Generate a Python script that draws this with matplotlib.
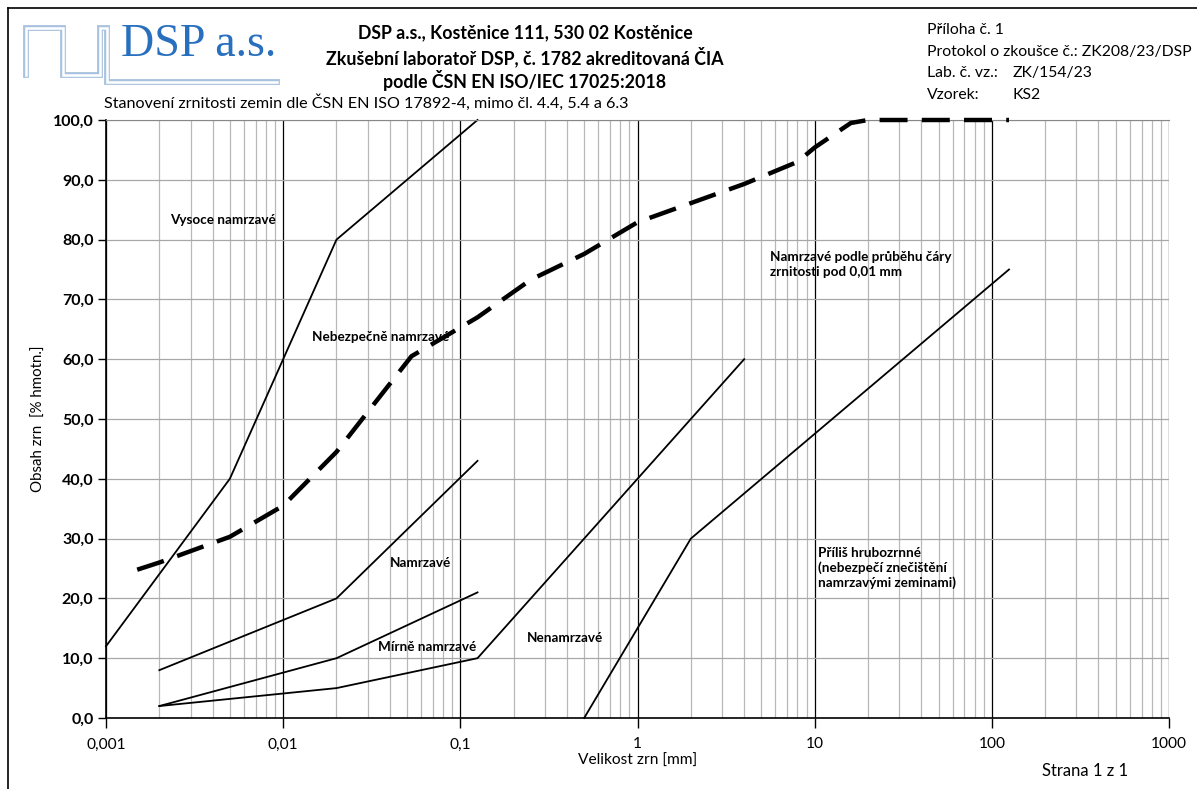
"""Frost susceptibility chart (grain size distribution) recreation."""

import matplotlib

matplotlib.use("Agg")
import matplotlib.pyplot as plt
from matplotlib.ticker import FixedLocator, FixedFormatter, NullFormatter

plt.rcParams["font.family"] = ["Lato", "DejaVu Sans"]

# boundary lines of the frost classes
vysoce_x = [0.001, 0.005, 0.02, 0.125]
vysoce_y = [12, 40, 80, 100]
namrzave_x = [0.002, 0.02, 0.125]
namrzave_y = [8, 20, 43]
mirne_x = [0.002, 0.02, 0.125]
mirne_y = [2, 10, 21]
nenamrzave_x = [0.002, 0.02, 0.125, 4]
nenamrzave_y = [2, 5, 10, 60]
hrubo_x = [0.5, 2, 125]
hrubo_y = [0, 30, 75]

# measured grading curve of sample KS2
sample_x = [0.0015, 0.002, 0.005, 0.01, 0.02, 0.053, 0.063, 0.125, 0.25,
            0.5, 1, 2, 4, 8, 10, 16, 20, 31.5, 63, 125]
sample_y = [24.8, 26.0, 30.3, 35.5, 44.5, 60.5, 61.8, 67.0, 73.3,
            77.6, 82.9, 86.1, 89.3, 93.0, 95.4, 99.5, 100, 100, 100, 100]

x_ticks = [0.001, 0.01, 0.1, 1, 10, 100, 1000]
x_labels = ["0,001", "0,01", "0,1", "1", "10", "100", "1000"]
y_ticks = list(range(0, 101, 10))
y_labels = ["%d,0" % v for v in y_ticks]

zones = [
    ("Vysoce namrzavé", 0.0023, 83.3),
    ("Nebezpečně namrzavé", 0.0146, 63.7),
    ("Namrzavé", 0.0398, 26.0),
    ("Mírně namrzavé", 0.0344, 11.9),
    ("Nenamrzavé", 0.236, 13.4),
    ("Namrzavé podle průběhu čáry\nzrnitosti pod 0,01 mm", 5.57, 75.8),
    ("Příliš hrubozrnné\n(nebezpečí znečištění\nnamrzavými zeminami)", 10.5, 25.1),
]

W, H = 1197, 789
fig = plt.figure(figsize=(W / 100, H / 100), dpi=100)

# page frame
frame = fig.add_axes([0, 0, 1, 1], zorder=-5)
frame.set_xlim(0, W)
frame.set_ylim(H, 0)
frame.axis("off")
frame.plot([8, W + 5], [8, 8], color="black", lw=1.2)
frame.plot([8, 8], [8, H + 5], color="black", lw=1.2)

# logo
px = [26, 26, 63, 63, 100, 100, 107, 107, 277]
py = [75, 28, 28, 75, 75, 28, 28, 82, 82]
frame.plot(px, py, color="#a9c3df", lw=4.2, solid_joinstyle="miter")
frame.plot(px, py, color="white", lw=1.8, solid_joinstyle="miter")
frame.text(121, 45, "DSP a.s.", family="Liberation Serif", fontsize=33,
           color="#2870bd", va="center", ha="left")

# header
head = ["DSP a.s., Kostěnice 111, 530 02 Kostěnice",
        "Zkušební laboratoř DSP, č. 1782 akreditovaná ČIA",
        "podle ČSN EN ISO/IEC 17025:2018"]
for i, line in enumerate(head):
    frame.text(525, 33 + 23.5 * i, line, ha="center", va="center",
               fontsize=12.8, fontweight="bold")
info = ["Příloha č. 1", "Protokol o zkoušce č.: ZK208/23/DSP",
        "Lab. č. vz.:", "Vzorek:"]
for i, line in enumerate(info):
    frame.text(927, 30 + 21.5 * i, line, ha="left", va="center", fontsize=11.3)
frame.text(1013, 73, "ZK/154/23", ha="left", va="center", fontsize=11.3)
frame.text(1013, 94.5, "KS2", ha="left", va="center", fontsize=11.3)
frame.text(104, 103, "Stanovení zrnitosti zemin dle ČSN EN ISO 17892-4, "
           "mimo čl. 4.4, 5.4 a 6.3", ha="left", va="center", fontsize=11.6)
frame.text(1042, 771, "Strana 1 z 1", ha="left", va="center", fontsize=12)

ax = fig.add_axes([106 / W, 1 - 718 / H, (1169 - 106) / W, (718 - 120) / H])
ax.set_xscale("log")
ax.set_xlim(0.001, 1000)
ax.set_ylim(0, 100)

minor = [m * 10.0 ** e for e in range(-3, 3) for m in range(2, 10)]
ax.xaxis.set_major_locator(FixedLocator(x_ticks))
ax.xaxis.set_major_formatter(FixedFormatter(x_labels))
ax.xaxis.set_minor_locator(FixedLocator(minor))
ax.xaxis.set_minor_formatter(NullFormatter())
ax.yaxis.set_major_locator(FixedLocator(y_ticks))
ax.yaxis.set_major_formatter(FixedFormatter(y_labels))

ax.grid(True, which="minor", axis="x", color="#b8b8b8", lw=0.9)
ax.grid(True, which="major", axis="x", color="black", lw=0.9)
ax.grid(True, which="major", axis="y", color="#a8a8a8", lw=0.9)
ax.set_axisbelow(True)
ax.tick_params(axis="x", which="minor", length=0)
ax.tick_params(axis="x", which="major", direction="out", length=7,
               width=1, labelsize=11.2, pad=7)
ax.tick_params(axis="y", direction="out", length=6, width=1,
               labelsize=11.5, pad=3)
for lab in ax.get_yticklabels():
    lab.set_fontweight("bold")

ax.spines["top"].set_color("#888888")
ax.spines["right"].set_visible(False)
ax.spines["left"].set_linewidth(1.2)
ax.spines["bottom"].set_linewidth(1.2)

for xs, ys in [(vysoce_x, vysoce_y), (namrzave_x, namrzave_y),
               (mirne_x, mirne_y), (nenamrzave_x, nenamrzave_y),
               (hrubo_x, hrubo_y)]:
    ax.plot(xs, ys, color="black", lw=1.3, clip_on=False)

ax.plot(sample_x, sample_y, color="black", lw=3.2, dashes=(6.3, 3.2),
        solid_capstyle="butt", clip_on=False, zorder=5)

for text, x, y in zones:
    ax.text(x, y, text, ha="left", va="center", fontsize=9.7,
            fontweight="bold", linespacing=1.25)

ax.set_xlabel("Velikost zrn [mm]", fontsize=11.2, labelpad=2)
ax.set_ylabel("Obsah zrn  [% hmotn.]", fontsize=10.8, labelpad=5)

fig.savefig("out.png", dpi=100)
plt.close(fig)
